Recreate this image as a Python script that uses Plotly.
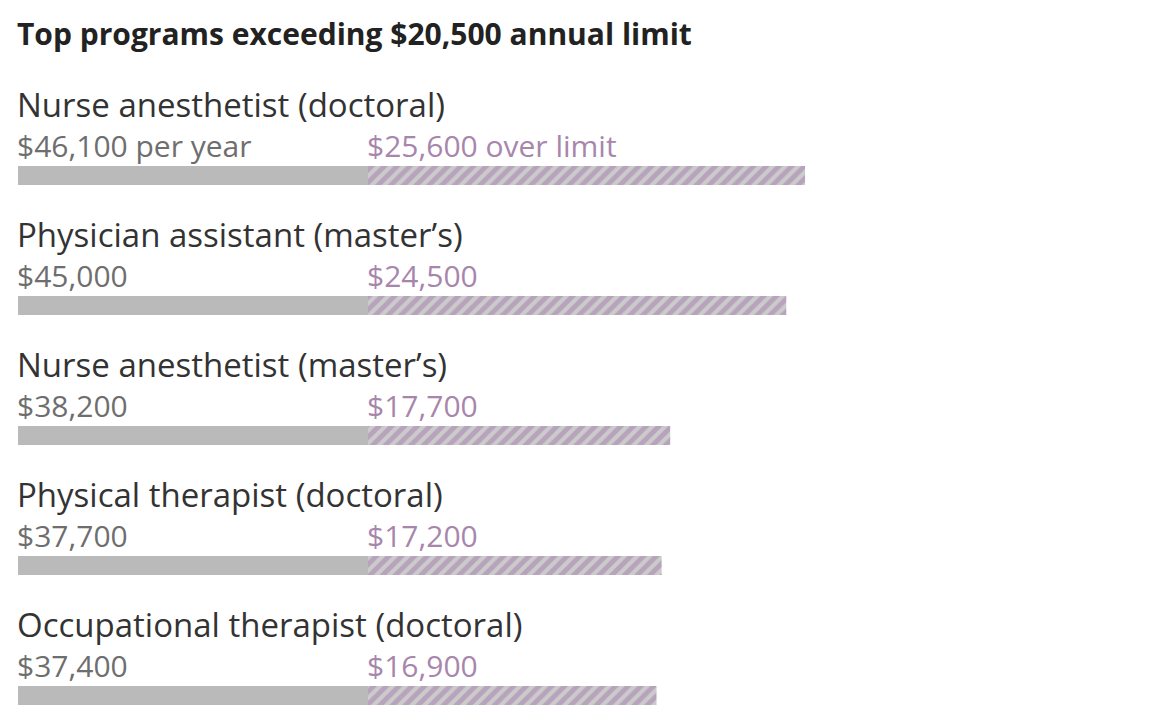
import plotly.graph_objects as go

# data
programs = ["Nurse anesthetist (doctoral)", "Physician assistant (master\u2019s)",
            "Nurse anesthetist (master\u2019s)", "Physical therapist (doctoral)",
            "Occupational therapist (doctoral)"]
per_year = [46100, 45000, 38200, 37700, 37400]
limit = 20500
left_labels = ["$46,100 per year", "$45,000", "$38,200", "$37,700", "$37,400"]
right_labels = ["$25,600 over limit", "$24,500", "$17,700", "$17,200", "$16,900"]

over = [v - limit for v in per_year]
rows = list(range(len(programs)))

FONT = "Open Sans, Liberation Sans, Arial, sans-serif"
GRAY = "#bababa"
PURPLE = "#a886ac"

fig = go.Figure()
fig.add_trace(go.Bar(y=rows, x=[limit] * len(rows), base=0, orientation="h",
                     width=0.146, marker=dict(color=GRAY, line=dict(width=0)),
                     hoverinfo="skip"))
fig.add_trace(go.Bar(y=rows, x=over, base=[limit] * len(rows), orientation="h",
                     width=0.146,
                     marker=dict(color="#cccccc", line=dict(width=0),
                                 pattern=dict(shape="/", fgcolor="#a47cac",
                                              bgcolor="#cbcbcb", size=9,
                                              solidity=0.55)),
                     hoverinfo="skip"))

ann = []
for i in rows:
    ann.append(dict(x=0, y=i - 0.545, text=programs[i], showarrow=False,
                    xanchor="left", yanchor="middle", xshift=-3,
                    font=dict(family=FONT, size=33, color="#333333")))
    ann.append(dict(x=0, y=i - 0.23, text=left_labels[i], showarrow=False,
                    xanchor="left", yanchor="middle", xshift=-3,
                    font=dict(family=FONT, size=30, color="#6e6e6e")))
    ann.append(dict(x=limit, y=i - 0.23, text=right_labels[i], showarrow=False,
                    xanchor="left", yanchor="middle", xshift=-3,
                    font=dict(family=FONT, size=30, color=PURPLE)))
ann.append(dict(x=0, y=-1.09, text="<b>Top programs exceeding $20,500 annual limit</b>",
                showarrow=False, xanchor="left", yanchor="middle", xshift=-3,
                font=dict(family=FONT, size=30, color="#222222")))

fig.update_layout(
    width=1174, height=726, barmode="overlay", showlegend=False,
    margin=dict(l=0, r=0, t=0, b=0),
    plot_bgcolor="white", paper_bgcolor="white",
    # page adds an 8px body margin, ranges compensate so marks land where the reference has them
    xaxis=dict(range=[-586, 68178], visible=False, fixedrange=True),
    yaxis=dict(range=[4.296, -1.288], visible=False, fixedrange=True),
    annotations=ann,
)

fig.write_html("out.html")
